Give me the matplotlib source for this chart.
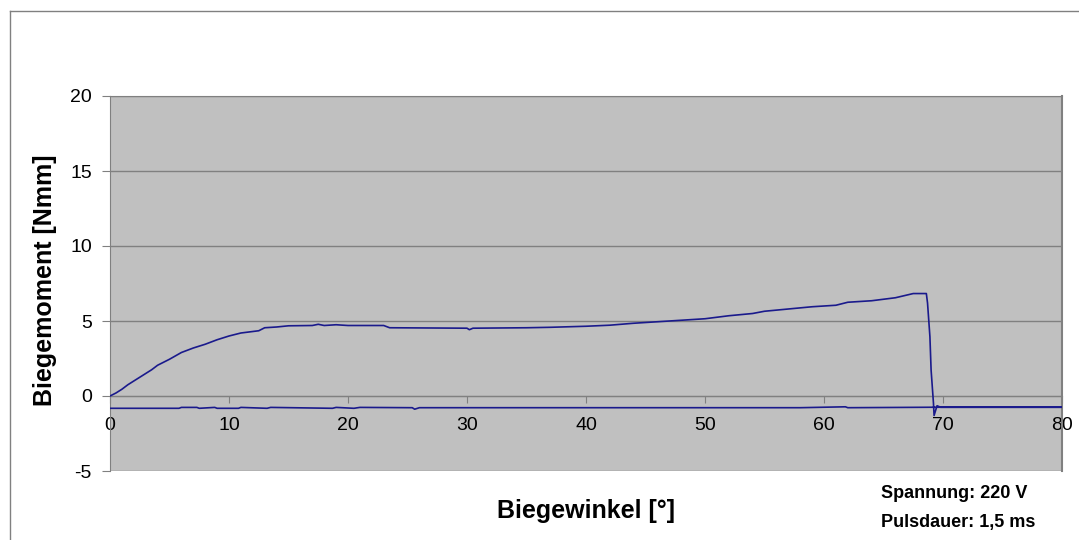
import matplotlib
matplotlib.use("Agg")
import matplotlib.pyplot as plt
from matplotlib.lines import Line2D

# bending angle [deg] and bending moment [Nmm]
# forward run (loading, break, after break)
angle_up = [0, 0.5, 1.0, 1.5, 2.0, 2.5, 3.0, 3.5, 4.0, 5.0, 6.0, 7.0, 8.0, 9.0,
            10.0, 11.0, 12.0, 12.5, 13.0, 14.0, 15.0, 17.0, 17.5, 18.0, 19.0,
            20.0, 23.0, 23.5, 30.0, 30.2, 30.5, 35.0, 37.0, 40.0, 42.0, 44.0,
            46.0, 48.0, 50.0, 52.0, 54.0, 55.0, 57.0, 59.0, 61.0, 62.0, 64.0,
            66.0, 67.5, 68.6, 68.7, 68.9, 69.0, 69.2, 69.25, 69.5, 69.8, 80.0]
moment_up = [0, 0.2, 0.45, 0.75, 1.0, 1.25, 1.5, 1.75, 2.05, 2.45, 2.9, 3.2,
             3.45, 3.75, 4.0, 4.2, 4.3, 4.35, 4.55, 4.6, 4.68, 4.7, 4.78, 4.7,
             4.75, 4.7, 4.7, 4.55, 4.52, 4.42, 4.52, 4.55, 4.58, 4.65, 4.72,
             4.85, 4.95, 5.05, 5.15, 5.35, 5.5, 5.65, 5.8, 5.95, 6.05, 6.25,
             6.35, 6.55, 6.83, 6.83, 6.2, 3.96, 1.73, -0.5, -1.3, -0.65, -0.75,
             -0.75]

# return run at the bottom
angle_back = [80.0, 69.0, 62.0, 61.8, 58.0, 26.0, 25.6, 25.4, 21.0, 20.5,
              19.0, 18.7, 13.5, 13.2, 11.0, 10.8, 9.0, 8.8, 7.5, 7.3, 6.0, 5.8, 0]
moment_back = [-0.75, -0.75, -0.78, -0.72, -0.78, -0.78, -0.88, -0.78, -0.76,
               -0.82, -0.76, -0.82, -0.76, -0.82, -0.76, -0.82, -0.82, -0.76,
               -0.82, -0.76, -0.76, -0.82, -0.82]

angle = angle_up + angle_back
moment = moment_up + moment_back

x_ticks = [0, 10, 20, 30, 40, 50, 60, 70, 80]
y_ticks = [-5, 0, 5, 10, 15, 20]

plt.rcParams['font.family'] = ['Liberation Sans', 'DejaVu Sans']
plt.rcParams['axes.unicode_minus'] = False

fig = plt.figure(figsize=(10.79, 5.4), dpi=100)

# outer chart frame (only left and top edge visible)
fig.add_artist(Line2D([10 / 1079, 10 / 1079], [0, 1 - 11 / 540],
                      transform=fig.transFigure, color='#808080', lw=1))
fig.add_artist(Line2D([10 / 1079, 1], [1 - 11 / 540, 1 - 11 / 540],
                      transform=fig.transFigure, color='#808080', lw=1))

ax = fig.add_axes([110 / 1079, 1 - 471 / 540, 952 / 1079, 375 / 540])
ax.set_facecolor('#c0c0c0')

ax.plot(angle, moment, color='#1a1a8c', lw=1.2, zorder=3)

ax.set_xlim(0, 80)
ax.set_ylim(-5, 20)
ax.set_xticks(x_ticks)
ax.set_yticks(y_ticks)

for v in y_ticks:
    ax.axhline(v, color='#808080', lw=1, zorder=1)

for side in ['left', 'right', 'top', 'bottom']:
    ax.spines[side].set_color('#808080')
ax.spines['bottom'].set_position(('data', 0))
ax.spines['right'].set_linewidth(1.5)

ax.tick_params(axis='both', colors='#808080', labelcolor='black',
               labelsize=14, direction='out')
ax.tick_params(axis='x', length=5, pad=10)
ax.tick_params(axis='y', length=6, pad=7)

fig.text(45 / 1079, 1 - 280 / 540, 'Biegemoment [Nmm]', fontsize=18,
         fontweight='bold', rotation=90, ha='center', va='center')
fig.text(586 / 1079, 1 - 511 / 540, 'Biegewinkel [°]', fontsize=18,
         fontweight='bold', ha='center', va='center')

fig.text(881 / 1079, 1 - 493 / 540, 'Spannung: 220 V', fontsize=13,
         fontweight='bold', ha='left', va='center')
fig.text(881 / 1079, 1 - 523 / 540, 'Pulsdauer: 1,5 ms', fontsize=13,
         fontweight='bold', ha='left', va='center')

plt.savefig('out.png', dpi=100)
